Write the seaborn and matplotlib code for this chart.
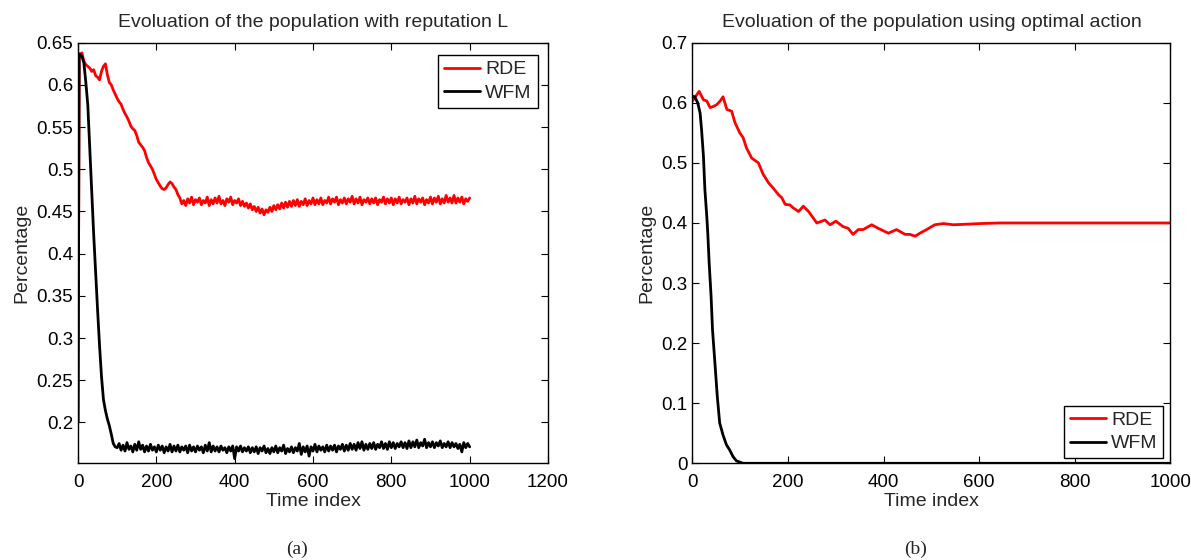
import matplotlib
matplotlib.use("Agg")
import matplotlib.pyplot as plt
import seaborn as sns

# ---- panel (a): population with reputation L ----
t_rde_a = [0, 3] + list(range(5, 1001, 5))
rde_a = [0.200, 0.632,
         # descent, t = 5 .. 255
         0.636, 0.638, 0.628, 0.624, 0.622, 0.620, 0.616, 0.618, 0.611, 0.609,
         0.606, 0.616, 0.622, 0.625, 0.612, 0.603, 0.600, 0.594, 0.589, 0.584,
         0.580, 0.577, 0.571, 0.566, 0.562, 0.557, 0.551, 0.548, 0.546, 0.540,
         0.532, 0.529, 0.526, 0.522, 0.514, 0.508, 0.504, 0.500, 0.494, 0.488,
         0.484, 0.480, 0.477, 0.476, 0.478, 0.482, 0.485, 0.483, 0.479, 0.476,
         0.470,
         # plateau, t = 260 .. 1000
         0.466, 0.459, 0.463, 0.457, 0.465, 0.460, 0.467, 0.458, 0.464, 0.461,
         0.466, 0.458, 0.463, 0.460, 0.467, 0.457, 0.464, 0.459, 0.466, 0.460,
         0.468, 0.459, 0.463, 0.457, 0.465, 0.461, 0.467, 0.458, 0.463, 0.460,
         0.465, 0.457, 0.462, 0.456, 0.460, 0.454, 0.459, 0.452, 0.456, 0.450,
         0.455, 0.448, 0.453, 0.446, 0.452, 0.449, 0.455, 0.450, 0.457, 0.452,
         0.458, 0.453, 0.460, 0.454, 0.461, 0.455, 0.462, 0.456, 0.463, 0.457,
         0.464, 0.456, 0.462, 0.458, 0.465, 0.457, 0.463, 0.459, 0.466, 0.458,
         0.464, 0.459, 0.466, 0.458, 0.463, 0.460, 0.467, 0.459, 0.465, 0.461,
         0.467, 0.458, 0.464, 0.460, 0.466, 0.459, 0.465, 0.461, 0.468, 0.459,
         0.465, 0.460, 0.467, 0.458, 0.464, 0.461, 0.466, 0.459, 0.465, 0.460,
         0.466, 0.458, 0.464, 0.461, 0.467, 0.459, 0.465, 0.460, 0.466, 0.458,
         0.465, 0.460, 0.467, 0.459, 0.464, 0.461, 0.466, 0.458, 0.465, 0.460,
         0.468, 0.459, 0.465, 0.461, 0.466, 0.458, 0.464, 0.460, 0.467, 0.459,
         0.466, 0.461, 0.468, 0.459, 0.465, 0.460, 0.469, 0.461, 0.466, 0.460,
         0.469, 0.460, 0.466, 0.461, 0.467, 0.459, 0.465, 0.462, 0.466]

t_wfm_a = [0, 3, 10, 15, 20, 25, 30, 35, 40, 45, 50, 55, 60, 65, 70, 75, 80,
           85, 90, 95] + list(range(100, 1001, 5))
wfm_a = [0.200, 0.637, 0.634, 0.626, 0.603, 0.576, 0.525, 0.472, 0.423, 0.378,
         0.333, 0.291, 0.254, 0.227, 0.214, 0.204, 0.196, 0.186, 0.175, 0.171,
         # plateau, t = 100 .. 1000
         0.170, 0.175, 0.167, 0.173, 0.166, 0.176, 0.168, 0.172, 0.165, 0.174,
         0.167, 0.177, 0.168, 0.173, 0.165, 0.172, 0.166, 0.174, 0.167, 0.171,
         0.165, 0.173, 0.167, 0.172, 0.164, 0.171, 0.166, 0.174, 0.165, 0.172,
         0.166, 0.173, 0.165, 0.171, 0.167, 0.172, 0.164, 0.173, 0.166, 0.171,
         0.165, 0.172, 0.167, 0.171, 0.164, 0.173, 0.166, 0.176, 0.165, 0.172,
         0.166, 0.171, 0.165, 0.172, 0.167, 0.170, 0.164, 0.171, 0.166, 0.172,
         0.157, 0.171, 0.166, 0.172, 0.165, 0.170, 0.166, 0.171, 0.164, 0.170,
         0.165, 0.171, 0.163, 0.170, 0.166, 0.172, 0.164, 0.169, 0.163, 0.170,
         0.165, 0.172, 0.164, 0.170, 0.166, 0.173, 0.163, 0.169, 0.165, 0.171,
         0.164, 0.170, 0.166, 0.175, 0.162, 0.171, 0.165, 0.172, 0.160, 0.171,
         0.166, 0.174, 0.165, 0.172, 0.167, 0.171, 0.165, 0.173, 0.166, 0.172,
         0.167, 0.173, 0.165, 0.172, 0.168, 0.174, 0.166, 0.173, 0.167, 0.175,
         0.168, 0.174, 0.167, 0.176, 0.169, 0.177, 0.167, 0.174, 0.168, 0.175,
         0.169, 0.176, 0.168, 0.174, 0.170, 0.177, 0.169, 0.175, 0.168, 0.177,
         0.170, 0.176, 0.169, 0.175, 0.171, 0.177, 0.170, 0.176, 0.169, 0.178,
         0.170, 0.177, 0.171, 0.179, 0.170, 0.176, 0.172, 0.180, 0.170, 0.176,
         0.171, 0.177, 0.170, 0.176, 0.172, 0.178, 0.170, 0.175, 0.171, 0.177,
         0.170, 0.176, 0.171, 0.175, 0.169, 0.174, 0.165, 0.176, 0.170, 0.175,
         0.171]

# ---- panel (b): population using optimal action ----
t_rde_b = [0, 7, 14, 23, 30, 37, 44, 51, 58, 64, 72, 82, 89, 99, 106, 113, 124,
           138, 148, 159, 169, 180, 187, 194, 204, 211, 222, 232, 243, 253, 260,
           271, 277, 288, 300, 315, 326, 336, 347, 357, 375, 389, 410, 427, 445,
           455, 466, 476, 490, 507, 525, 546, 574, 602, 643, 660, 1000]
rde_b = [0.603, 0.611, 0.619, 0.605, 0.603, 0.592, 0.594, 0.597, 0.603, 0.610,
         0.589, 0.586, 0.567, 0.550, 0.542, 0.525, 0.508, 0.500, 0.481, 0.467,
         0.458, 0.447, 0.442, 0.431, 0.430, 0.425, 0.419, 0.428, 0.419, 0.408,
         0.400, 0.403, 0.405, 0.397, 0.403, 0.394, 0.391, 0.381, 0.389, 0.389,
         0.397, 0.391, 0.383, 0.389, 0.381, 0.381, 0.378, 0.383, 0.389, 0.397,
         0.399, 0.397, 0.398, 0.399, 0.400, 0.400, 0.400]

t_wfm_b = [0, 5, 11, 16, 19, 23, 26, 30, 32, 35, 39, 42, 47, 52, 57, 64, 71,
           78, 85, 92, 99, 106, 1000]
wfm_b = [0.611, 0.610, 0.600, 0.583, 0.556, 0.511, 0.456, 0.411, 0.384, 0.333,
         0.278, 0.222, 0.167, 0.111, 0.067, 0.047, 0.031, 0.022, 0.011, 0.004,
         0.002, 0.000, 0.000]

titles = ["Evoluation of the population with reputation L",
          "Evoluation of the population using optimal action"]
sub_labels = ["(a)", "(b)"]

sns.set_style("ticks")
plt.rcParams["font.family"] = ["Liberation Sans", "DejaVu Sans"]

fig = plt.figure(figsize=(11.91, 5.6), dpi=100)
ax_a = fig.add_axes([0.0655, 0.1727, 0.3946, 0.751])
ax_b = fig.add_axes([0.5814, 0.1727, 0.4013, 0.751])

lw = 2.0
sns.lineplot(x=t_rde_a, y=rde_a, ax=ax_a, color="#ff0000", lw=lw, label="RDE", sort=False)
sns.lineplot(x=t_wfm_a, y=wfm_a, ax=ax_a, color="black", lw=lw, label="WFM", sort=False)
sns.lineplot(x=t_rde_b, y=rde_b, ax=ax_b, color="#ff0000", lw=lw, label="RDE", sort=False)
sns.lineplot(x=t_wfm_b, y=wfm_b, ax=ax_b, color="black", lw=lw, label="WFM", sort=False)

ax_a.set_xlim(0, 1200)
ax_a.set_ylim(0.1515, 0.65)
ax_a.set_xticks(range(0, 1201, 200))
yt_a = [0.2, 0.25, 0.3, 0.35, 0.4, 0.45, 0.5, 0.55, 0.6, 0.65]
ax_a.set_yticks(yt_a)
ax_a.set_yticklabels([f"{v:g}" for v in yt_a])

ax_b.set_xlim(0, 1000)
ax_b.set_ylim(0, 0.7)
ax_b.set_xticks(range(0, 1001, 200))
yt_b = [0, 0.1, 0.2, 0.3, 0.4, 0.5, 0.6, 0.7]
ax_b.set_yticks(yt_b)
ax_b.set_yticklabels([f"{v:g}" for v in yt_b])

for ax, title in zip([ax_a, ax_b], titles):
    ax.set_title(title, fontsize=14, pad=11)
    ax.set_xlabel("Time index", fontsize=14, labelpad=1)
    ax.set_ylabel("Percentage", fontsize=14)
    ax.tick_params(direction="in", top=True, right=True, length=5, width=0.8,
                   labelsize=13.5, colors="black")
    ax.tick_params(axis="x", pad=8)
    for s in ax.spines.values():
        s.set_visible(True)
        s.set_color("black")
        s.set_linewidth(1.0)

leg_kw = dict(fontsize=14, frameon=True, fancybox=False, edgecolor="black",
              framealpha=1, borderpad=0.3, labelspacing=0.3, handlelength=1.86,
              handletextpad=0.26, borderaxespad=0)
leg = ax_a.legend(loc="upper right", bbox_to_anchor=(0.978, 0.971), **leg_kw)
leg.get_frame().set_linewidth(1.0)
leg = ax_b.legend(loc="lower right", bbox_to_anchor=(0.9854, 0.0119), **leg_kw)
leg.get_frame().set_linewidth(1.0)

for x, lab in zip([0.2494, 0.7688], sub_labels):
    fig.text(x, 0.0196, lab, ha="center", va="center", fontsize=14,
             family=["Liberation Serif", "DejaVu Serif"])

fig.savefig("out.png", dpi=100)
